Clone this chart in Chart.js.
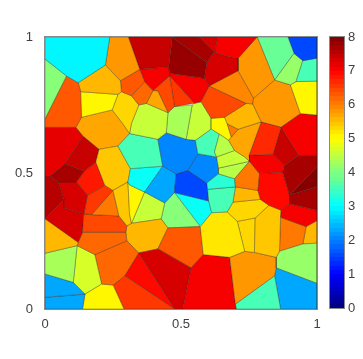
<!DOCTYPE html>
<html>
<head>
<meta charset="utf-8">
<style>
  html, body { margin: 0; padding: 0; background: #fff; }
  canvas { position: absolute; left: 0; top: 0; }
</style>
<script src="https://cdn.jsdelivr.net/npm/chart.js@4"></script>
</head>
<body>
<canvas id="cellChart" width="363" height="359"></canvas>
<canvas id="barChart" width="363" height="359"></canvas>
<script>
// patch vertices (axis units)
const vertexX = [0,.238,.222,.122,.079,0,0,.131,.134,.114,0,.277,.281,.268,.247,.306,.348,.366,.318,.468,
  .455,.595,.586,.458,.568,.623,.635,.780,.710,.666,.710,.604,.844,.767,.893,.915,1,1,.948,.923,
  .902,1,1,.939,.868,.795,.764,1,.933,.740,.660,.611,.574,.670,.710,.685,.675,.734,.750,.838,
  .880,.874,.789,.752,1,.899,1,1,.899,1,.960,.866,.868,.823,.792,.783,.700,.697,.641,.611,
  .697,.631,.623,.638,.638,.595,.598,.691,.670,.613,.602,.707,.773,.571,.582,.679,.734,.770,.862,.850,
  .850,.844,.700,.703,.866,1,1,1,.948,.507,.537,.397,.373,.345,.415,.452,.458,.476,.549,.541,
  .318,.311,.284,.446,.415,.519,.553,.562,.525,.482,.433,.476,.440,.366,.314,.268,.311,.305,.318,.311,
  .250,.301,.272,.199,.187,.220,.140,.073,.018,0,.144,.116,.049,.070,0,.156,.143,.070,.171,.297,
  .138,.122,.118,0,.301,.183,0,.104,.147,0,0,.138,.208,.344,.293,.250,.290,.476,.415,.452,.427];
const vertexY = [1,1,.897,.832,.857,.919,.699,.799,.705,.668,.668,.839,.799,.789,.732,1,.881,.836,.784,1,
  .891,.906,.848,.867,1,.946,1,1,.922,.930,.876,.820,.842,.775,1,.940,1,.922,.913,.836,
  .824,.838,.713,.719,.669,.688,.754,.565,.565,.756,.705,.701,.762,.681,.661,.632,.620,.559,.565,.569,
  .528,.504,.497,.543,.522,.419,.449,.363,.387,.325,.303,.337,.363,.381,.403,.436,.449,.479,.643,.662,
  .583,.559,.577,.518,.497,.463,.440,.393,.357,.354,.397,.322,.335,.303,.200,.190,.212,.208,.212,.190,
  .151,.122,.018,0,0,0,.094,.242,.239,0,.151,.803,.756,.750,.801,.722,.857,.744,.756,.750,
  .683,.645,.684,.648,.624,.624,.620,.571,.510,.497,.525,.428,.390,.430,.516,.599,.456,.467,.315,.349,
  .436,.306,.342,.587,.540,.455,.636,.534,.489,.493,.506,.467,.467,.403,.332,.418,.350,.371,.347,.282,
  .282,.245,.233,.205,.251,.200,.129,.098,.055,.043,0,0,.092,.206,.122,.088,0,0,.221,.298,.331];

// vertex indices of every cell
const cellFaces = [
  [0,1,2,3,4,5],[5,4,6],[4,3,7,8,9,10,6],[3,2,11,12,13,7],[7,13,14,8],[1,15,16,11,2],[11,16,17,18,12],
  [15,19,20,16],[19,21,22,23,20],[19,24,25,21],[24,26,25],[26,27,28,29,25],[21,25,29,28,30,31,22],
  [27,32,33,30,28],[27,34,35,32],[34,36,37,38,35],[38,37,41,39],[35,38,39,40,32],[39,41,42,43,40],
  [32,40,43,44,45,46,33],[43,42,47,48,44],[31,30,33,46,49],[31,49,50,51,52],[49,46,45,54,53,50],
  [53,54,55],[54,45,58,63,57,80,56,55],[45,44,59,58],[44,48,60,59],[58,59,60,61,62,63],[60,48,47,64,65,61],
  [64,66,65],[65,66,67,68],[68,67,69,70,71,72],[62,61,65,68,72,73,74,75],[63,62,75,76,77],[78,56,80,81,82],
  [81,80,57,63,83],[83,63,77,84],[51,50,53,55,56,78,79],[84,77,76,86,85],[86,76,87,88,89,90],[76,75,74,87],
  [88,87,74,73,92,91],[73,72,71,98,99,97,92],[89,88,91,96,95,94,93],[91,92,97,96],[95,96,97,99,100,101,102],
  [94,95,102,103,109,110],[102,101,104,103],[100,106,105,104,101],[98,108,107,106,100,99],[71,70,108,98],
  [70,69,107,108],[16,20,23,116,111,17],[17,111,112,113,18],[111,114,115,112],[114,111,116,117,115],
  [116,118,117],[23,22,31,52,118,116],[13,12,18,113,120,121,122,14],[113,112,115,123,124,121,120],
  [115,117,119,125,123],[119,118,52,51,79,126,125],[126,79,78,82,81,127],[124,123,125,126,127,128,129,130],
  [127,81,83,84,85,128],[129,128,85,86,90,131],[130,129,131,132,133],[121,124,130,134,135],[134,130,133,136,137],
  [137,136,133,138,139],[140,137,139,138,141,142],[143,135,134,137,140,145,144],[8,14,122,121,135,143,146,9],
  [10,9,146,147,148,149],[146,143,144,150,147],[147,150,151,152,148],[149,148,152,153,154],
  [152,151,155,156,157,153],[151,150,144,145,155],[155,145,140,158,156],[140,142,158],[156,158,142,141,159,160],
  [154,153,157,156,160,161],[154,161,162,163],[161,160,159,164,165,162],[163,162,167,166],[162,165,172,168,167],
  [166,167,168,169],[169,168,171,170],[165,164,173,174,175,172],[168,172,175,176,171],[175,174,177,176],
  [174,173,177],[173,178,110,109,177],[178,179,93,94,110],[141,138,180,179,178,173,164,159],[133,132,180,138],
  [132,131,93,179,180],[131,90,89,93]
];

// value of every cell, same order as cellFaces
const cellValues = [
  2.9,4.0,6.3,5.6,5.0,5.85,6.3,
  7.4,7.75,7.7,7.3,7.0,7.25,
  5.85,3.8,1.6,3.5,4.2,5.0,
  5.85,7.0,5.9,6.4,5.5,
  6.0,5.7,6.7,7.4,7.0,7.7,
  8.0,7.7,7.05,6.9,6.0,4.4,
  4.6,4.4,5.1,3.3,3.6,5.5,
  5.3,5.4,5.2,5.3,5.8,
  7.0,3.5,2.35,4.2,6.0,
  5.6,7.0,6.2,5.7,6.4,
  6.6,7.0,5.3,4.6,
  4.3,4.5,3.55,2.0,
  2.1,1.6,2.3,3.55,3.0,
  5.1,5.4,5.45,5.7,
  7.2,7.4,7.7,7.6,
  7.3,6.85,6.5,6.0,6.4,
  7.25,5.6,6.2,4.3,4.7,
  2.35,2.3,6.15,5.1,6.6,
  6.9,7.35,6.25,5.5,4.6,
  4.1,3.1
];

const xTickValues = [0, 0.5, 1];
const yTickValues = [0, 0.5, 1];
const barTickValues = [0, 1, 2, 3, 4, 5, 6, 7, 8];
const barRange = [0, 8];

const tickFont = { family: '"Liberation Sans", Arial, sans-serif', size: 13 };
const tickColor = '#404040';

const clip01 = (v) => Math.max(0, Math.min(1, v));

// jet colormap, 64 steps
const jetLevel = (i) => {
    const t = (i + 0.5) / 64;
    const r = Math.round(255 * clip01(1.5 - Math.abs(4 * t - 3)));
    const g = Math.round(255 * clip01(1.5 - Math.abs(4 * t - 2)));
    const b = Math.round(255 * clip01(1.5 - Math.abs(4 * t - 1)));
    return 'rgb(' + r + ',' + g + ',' + b + ')';
};
const jetColor = (v) => jetLevel(Math.min(63, Math.floor(v / 8 * 64)));

const cellDatasets = cellFaces.map((face, i) => {
    const pts = face.concat(face[0]).map((k) => ({ x: vertexX[k], y: vertexY[k] }));
    return {
        data: pts,
        showLine: true,
        fill: 'shape',
        tension: 0,
        pointRadius: 0,
        backgroundColor: jetColor(cellValues[i]),
        borderColor: 'rgba(40,30,20,0.6)',
        borderWidth: 0.55,
    };
});

const axisBox = {
    id: 'axisBox',
    afterDraw(chart) {
        const a = chart.chartArea;
        const ctx = chart.ctx;
        ctx.save();
        ctx.strokeStyle = '#8a8a8a';
        ctx.lineWidth = 1;
        ctx.strokeRect(a.left - 0.5, a.top - 0.5, a.right - a.left + 1, a.bottom - a.top + 1);
        ctx.restore();
    },
};

new Chart(document.getElementById('cellChart').getContext('2d'), {
    type: 'scatter',
    data: { datasets: cellDatasets },
    plugins: [axisBox],
    options: {
        responsive: false,
        animation: false,
        events: [],
        layout: { padding: { top: 37, right: 46, left: 0, bottom: 0 } },
        plugins: { legend: { display: false }, tooltip: { enabled: false } },
        scales: {
            x: {
                type: 'linear', min: 0, max: 1,
                grid: { display: false },
                border: { display: false },
                afterBuildTicks: (s) => { s.ticks = xTickValues.map((v) => ({ value: v })); },
                afterFit: (s) => { s.height = 50; },
                ticks: { font: tickFont, color: tickColor, maxRotation: 0, padding: 0, callback: (v) => String(v) },
            },
            y: {
                type: 'linear', min: 0, max: 1,
                grid: { display: false },
                border: { display: false },
                afterBuildTicks: (s) => { s.ticks = yTickValues.map((v) => ({ value: v })); },
                afterFit: (s) => { s.width = 45; },
                ticks: { font: tickFont, color: tickColor, padding: 4, callback: (v) => String(v) },
            },
        },
    },
});

const barFill = (context) => {
    const chart = context.chart;
    const a = chart.chartArea;
    if (!a) return '#000';
    const grad = chart.ctx.createLinearGradient(0, a.bottom, 0, a.top);
    for (let i = 0; i < 64; i++) {
        grad.addColorStop(i / 64, jetLevel(i));
        grad.addColorStop((i + 1) / 64, jetLevel(i));
    }
    return grad;
};

new Chart(document.getElementById('barChart').getContext('2d'), {
    type: 'bar',
    data: {
        labels: [''],
        datasets: [{
            data: [barRange],
            backgroundColor: barFill,
            barPercentage: 1,
            categoryPercentage: 1,
        }],
    },
    plugins: [axisBox],
    options: {
        responsive: false,
        animation: false,
        events: [],
        layout: { padding: { top: 37, left: 330, right: 0, bottom: 0 } },
        plugins: { legend: { display: false }, tooltip: { enabled: false } },
        scales: {
            x: {
                display: true,
                grid: { display: false },
                border: { display: false },
                ticks: { display: false },
                afterFit: (s) => { s.height = 51; },
            },
            y: {
                position: 'right',
                min: 0, max: 8,
                afterBuildTicks: (s) => { s.ticks = barTickValues.map((v) => ({ value: v })); },
                afterFit: (s) => { s.width = 19; },
                border: { display: false },
                grid: { drawOnChartArea: false, color: '#444', tickLength: -3, lineWidth: 0.6 },
                ticks: { font: tickFont, color: tickColor, padding: 7, callback: (v) => String(v) },
            },
        },
    },
});
</script>
</body>
</html>
